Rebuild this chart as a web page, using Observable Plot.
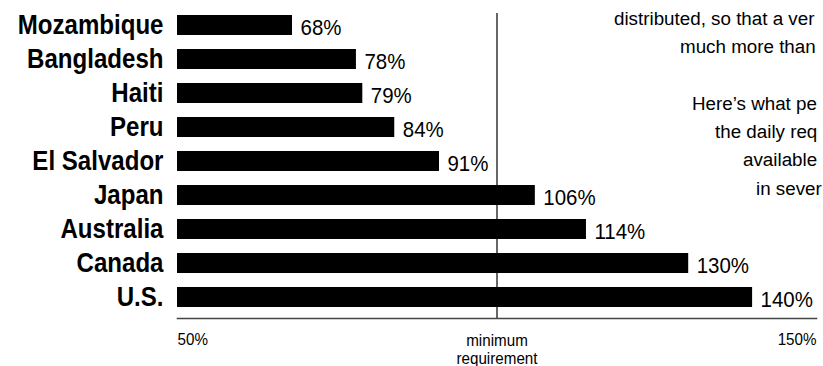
<!DOCTYPE html>
<html>
<head>
<meta charset="utf-8">
<script src="https://cdn.jsdelivr.net/npm/d3@7"></script>
<script src="https://cdn.jsdelivr.net/npm/@observablehq/plot@0.6"></script>
<style>
  html, body { margin: 0; padding: 0; background: #fff; overflow: hidden; }
  #wrap { position: relative; width: 823px; height: 366px; overflow: hidden; }
  #chart svg { display: block; }
  .note { position: absolute; font-family: "Liberation Sans", Arial, sans-serif; font-size: 18.8px; color: #000; white-space: nowrap; line-height: 1; }
</style>
</head>
<body>
<div id="wrap">
  <div id="chart"></div>
  <div class="note" style="left:614px; top:10px;">distributed, so that a ver</div>
  <div class="note" style="left:680px; top:38px;">much more than</div>
  <div class="note" style="left:692px; top:95px;">Here’s what pe</div>
  <div class="note" style="left:715px; top:123px;">the daily req</div>
  <div class="note" style="left:743px; top:151px;">available</div>
  <div class="note" style="left:756px; top:180px;">in sever</div>
</div>
<script>
// Data
const countries = ["Mozambique", "Bangladesh", "Haiti", "Peru", "El Salvador", "Japan", "Australia", "Canada", "U.S."];
const percents = [68, 78, 79, 84, 91, 106, 114, 130, 140];
const axisMin = 50;
const axisMax = 150;
const requirement = 100;
const tickValues = [50, 100, 150];
const tickLabels = ["50%", "minimum\nrequirement", "150%"];

const rows = countries.map((c, i) => ({country: c, value: percents[i]}));
const ticks = tickValues.map((v, i) => ({value: v, label: tickLabels[i]}));

const sans = "Liberation Sans, Arial, sans-serif";

const chart = Plot.plot({
  width: 823,
  height: 366,
  marginLeft: 177,
  marginRight: 7,
  marginTop: 5,
  marginBottom: 48,
  style: {background: "transparent", color: "#000"},
  x: {domain: [axisMin, axisMax], axis: null},
  y: {domain: countries, axis: null, paddingInner: 0.4, paddingOuter: 0.18},
  marks: [
    Plot.barX(rows, {x1: () => axisMin, x2: "value", y: "country", fill: "#000"}),
    Plot.ruleX([requirement], {stroke: "#000", strokeWidth: 1.2, insetTop: 8}),
    Plot.frame({anchor: "bottom", stroke: "#444", strokeWidth: 1.6}),
    Plot.text(rows, {
      y: "country", text: "country", frameAnchor: "left", textAnchor: "end", dx: -14, dy: 0,
      fontFamily: sans, fontWeight: "bold", fontSize: 28, fill: "#000"
    }),
    Plot.text(rows, {
      x: "value", y: "country", text: d => d.value + "%", textAnchor: "start", dx: 8, dy: 2,
      fontFamily: sans, fontSize: 22, fill: "#000"
    }),
    Plot.text(ticks.filter(t => t.value === axisMin), {
      x: "value", text: "label", frameAnchor: "bottom", textAnchor: "start", lineAnchor: "top", dy: 15.6,
      fontFamily: sans, fontSize: 16, fill: "#000"
    }),
    Plot.text(ticks.filter(t => t.value === requirement), {
      x: "value", text: "label", frameAnchor: "bottom", textAnchor: "middle", lineAnchor: "top", dy: 13.6, lineHeight: 1.18,
      fontFamily: sans, fontSize: 16, fill: "#000"
    }),
    Plot.text(ticks.filter(t => t.value === axisMax), {
      x: "value", text: "label", frameAnchor: "bottom", textAnchor: "end", lineAnchor: "top", dy: 15.6,
      fontFamily: sans, fontSize: 16, fill: "#000"
    })
  ]
});

// Condense the lettering (the original uses a condensed face)
function condense(selector, sx) {
  d3.select(chart).selectAll(selector).each(function () {
    const t = this.getAttribute("transform");
    if (t) {
      this.setAttribute("transform", t + ` scale(${sx},1)`);
    } else {
      const x = +this.getAttribute("x") || 0, y = +this.getAttribute("y") || 0;
      this.removeAttribute("x"); this.removeAttribute("y");
      this.setAttribute("transform", `translate(${x},${y}) scale(${sx},1)`);
    }
  });
}
condense('g[font-size="28"] text', 0.86);
condense('g[font-size="22"] text', 0.93);
condense('g[font-size="16"] text', 0.95);

document.getElementById("chart").appendChild(chart);
</script>
</body>
</html>
